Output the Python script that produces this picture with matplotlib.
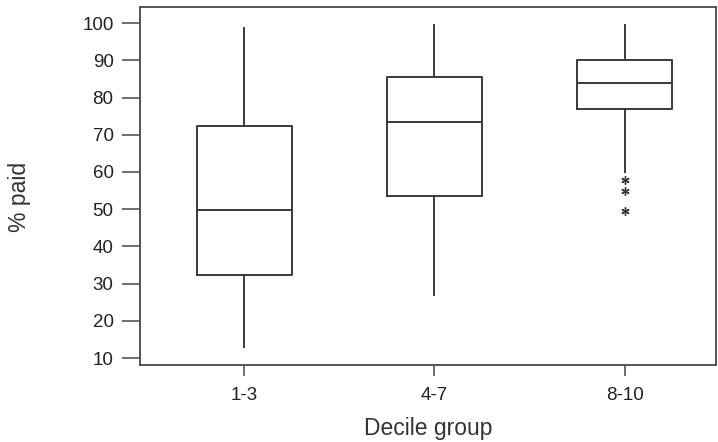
import matplotlib.pyplot as plt

# Box summaries of % paid by decile group
groups = ["1-3", "4-7", "8-10"]
whisker_low = [13.0, 27.0, 60.0]
q1 = [32.2, 53.5, 77.0]
median = [49.8, 73.4, 84.0]
q3 = [72.3, 85.6, 90.0]
whisker_high = [98.6, 99.5, 99.5]
outliers = [[], [], [57.7, 54.8, 49.4]]

plt.rcParams["font.family"] = ["Liberation Sans", "DejaVu Sans"]

stats = []
for i, name in enumerate(groups):
    stats.append({
        "label": name,
        "whislo": whisker_low[i],
        "q1": q1[i],
        "med": median[i],
        "q3": q3[i],
        "whishi": whisker_high[i],
        "fliers": outliers[i],
    })

fig = plt.figure(figsize=(7.18, 4.42), dpi=100)
ax = fig.add_axes([0.195, 0.174, 0.802, 0.81])

line = dict(color="#3a3a3a", linewidth=1.4)
ax.bxp(stats, positions=[1, 2, 3], widths=0.5, showcaps=False,
       boxprops=line, whiskerprops=line, medianprops=line,
       flierprops=dict(marker=(6, 2, 0), markersize=6, markeredgecolor="#3a3a3a",
                       markeredgewidth=1.0, linestyle="none"))

ax.set_xlim(0.453, 3.48)
ax.set_ylim(8.1, 104.3)
ax.set_yticks(range(10, 101, 10))
ax.set_xticks([1, 2, 3])
ax.set_xticklabels(groups)

for s in ax.spines.values():
    s.set_color("#555555")
    s.set_linewidth(1.4)
ax.tick_params(axis="y", length=13, width=1.2, color="#555555", labelsize=13.5,
               labelcolor="#222222", pad=6)
ax.tick_params(axis="x", length=8, width=1.2, color="#555555", labelsize=13.5,
               labelcolor="#222222", pad=8)

ax.set_xlabel("Decile group", fontsize=16.5, color="#333333")
ax.xaxis.set_label_coords(0.5, -0.145)
ax.set_ylabel("% paid", fontsize=16.5, color="#333333")
ax.yaxis.set_label_coords(-0.19, 0.47)

fig.savefig("out.png", dpi=100)
plt.close(fig)
